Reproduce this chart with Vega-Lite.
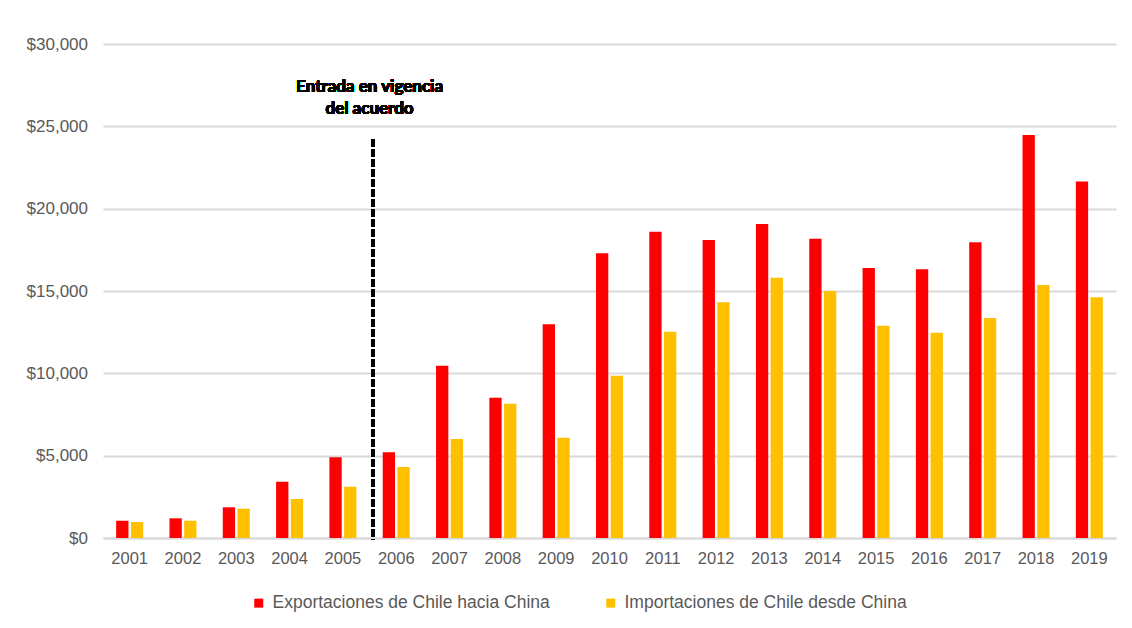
{
  "$schema": "https://vega.github.io/schema/vega-lite/v6.json",
  "autosize": {"type": "none"},
  "width": 1013,
  "height": 494,
  "padding": {"left": 103, "top": 44, "right": 16, "bottom": 90},
  "background": "white",
  "config": {
    "font": "Liberation Sans",
    "view": {"stroke": null}
  },
  "data": {
    "values": [
      {"year": "2001", "serie": "Exportaciones de Chile hacia China", "value": 1050},
      {"year": "2001", "serie": "Importaciones de Chile desde China", "value": 970},
      {"year": "2002", "serie": "Exportaciones de Chile hacia China", "value": 1195},
      {"year": "2002", "serie": "Importaciones de Chile desde China", "value": 1050},
      {"year": "2003", "serie": "Exportaciones de Chile hacia China", "value": 1865},
      {"year": "2003", "serie": "Importaciones de Chile desde China", "value": 1780},
      {"year": "2004", "serie": "Exportaciones de Chile hacia China", "value": 3420},
      {"year": "2004", "serie": "Importaciones de Chile desde China", "value": 2370},
      {"year": "2005", "serie": "Exportaciones de Chile hacia China", "value": 4900},
      {"year": "2005", "serie": "Importaciones de Chile desde China", "value": 3115},
      {"year": "2006", "serie": "Exportaciones de Chile hacia China", "value": 5200},
      {"year": "2006", "serie": "Importaciones de Chile desde China", "value": 4310},
      {"year": "2007", "serie": "Exportaciones de Chile hacia China", "value": 10460},
      {"year": "2007", "serie": "Importaciones de Chile desde China", "value": 6010},
      {"year": "2008", "serie": "Exportaciones de Chile hacia China", "value": 8520},
      {"year": "2008", "serie": "Importaciones de Chile desde China", "value": 8150},
      {"year": "2009", "serie": "Exportaciones de Chile hacia China", "value": 12975},
      {"year": "2009", "serie": "Importaciones de Chile desde China", "value": 6090},
      {"year": "2010", "serie": "Exportaciones de Chile hacia China", "value": 17290},
      {"year": "2010", "serie": "Importaciones de Chile desde China", "value": 9855},
      {"year": "2011", "serie": "Exportaciones de Chile hacia China", "value": 18600},
      {"year": "2011", "serie": "Importaciones de Chile desde China", "value": 12525},
      {"year": "2012", "serie": "Exportaciones de Chile hacia China", "value": 18095},
      {"year": "2012", "serie": "Importaciones de Chile desde China", "value": 14310},
      {"year": "2013", "serie": "Exportaciones de Chile hacia China", "value": 19065},
      {"year": "2013", "serie": "Importaciones de Chile desde China", "value": 15805},
      {"year": "2014", "serie": "Exportaciones de Chile hacia China", "value": 18175},
      {"year": "2014", "serie": "Importaciones de Chile desde China", "value": 15000},
      {"year": "2015", "serie": "Exportaciones de Chile hacia China", "value": 16395},
      {"year": "2015", "serie": "Importaciones de Chile desde China", "value": 12890},
      {"year": "2016", "serie": "Exportaciones de Chile hacia China", "value": 16315},
      {"year": "2016", "serie": "Importaciones de Chile desde China", "value": 12465},
      {"year": "2017", "serie": "Exportaciones de Chile hacia China", "value": 17955},
      {"year": "2017", "serie": "Importaciones de Chile desde China", "value": 13360},
      {"year": "2018", "serie": "Exportaciones de Chile hacia China", "value": 24480},
      {"year": "2018", "serie": "Importaciones de Chile desde China", "value": 15360},
      {"year": "2019", "serie": "Exportaciones de Chile hacia China", "value": 21650},
      {"year": "2019", "serie": "Importaciones de Chile desde China", "value": 14615}
    ]
  },
  "encoding": {
    "x": {
      "field": "year",
      "type": "nominal",
      "scale": {"paddingInner": 0, "paddingOuter": 0},
      "axis": {
        "title": null,
        "labelAngle": 0,
        "labelFontSize": 16.5,
        "labelColor": "#595959",
        "labelPadding": 12,
        "ticks": false,
        "domainColor": "#d9d9d9",
        "domainWidth": 2
      }
    }
  },
  "layer": [
    {
      "mark": {"type": "bar"},
      "encoding": {
        "xOffset": {
          "field": "serie",
          "type": "nominal",
          "scale": {"paddingInner": 0.163, "paddingOuter": 0.894}
        },
        "y": {
          "field": "value",
          "type": "quantitative",
          "scale": {"domain": [0, 30000], "nice": false},
          "axis": {
            "title": null,
            "values": [0, 5000, 10000, 15000, 20000, 25000, 30000],
            "format": "$,d",
            "labelFontSize": 17,
            "labelColor": "#595959",
            "labelPadding": 15.5,
            "ticks": false,
            "domain": false,
            "gridColor": "#d9d9d9",
            "gridWidth": 2
          }
        },
        "color": {
          "field": "serie",
          "type": "nominal",
          "scale": {
            "domain": ["Exportaciones de Chile hacia China", "Importaciones de Chile desde China"],
            "range": ["#ff0000", "#ffc000"]
          },
          "legend": {
            "title": null,
            "orient": "none",
            "direction": "horizontal",
            "legendX": 147,
            "legendY": 550,
            "symbolType": "square",
            "symbolSize": 81,
            "symbolStrokeWidth": 0,
            "labelFontSize": 17.5,
            "labelColor": "#595959",
            "labelOffset": 5,
            "labelLimit": 400,
            "columnPadding": 52
          }
        }
      }
    },
    {
      "mark": {"type": "rule", "color": "black", "strokeWidth": 3, "strokeDash": [7, 3]},
      "encoding": {
        "x": {"datum": "2006", "type": "nominal", "bandPosition": 0.06},
        "y": {"datum": 24200, "type": "quantitative"},
        "y2": {"datum": -100}
      }
    },
    {
      "mark": {
        "type": "text",
        "font": "Lato",
        "fontWeight": "bold",
        "fontSize": 17,
        "color": "#000000",
        "align": "center",
        "baseline": "alphabetic",
        "lineHeight": 21.5
      },
      "encoding": {
        "x": {"datum": "2006", "type": "nominal", "bandPosition": 0},
        "y": {"datum": 27070, "type": "quantitative"},
        "text": {"value": ["Entrada en vigencia", "del acuerdo"]}
      }
    }
  ]
}
